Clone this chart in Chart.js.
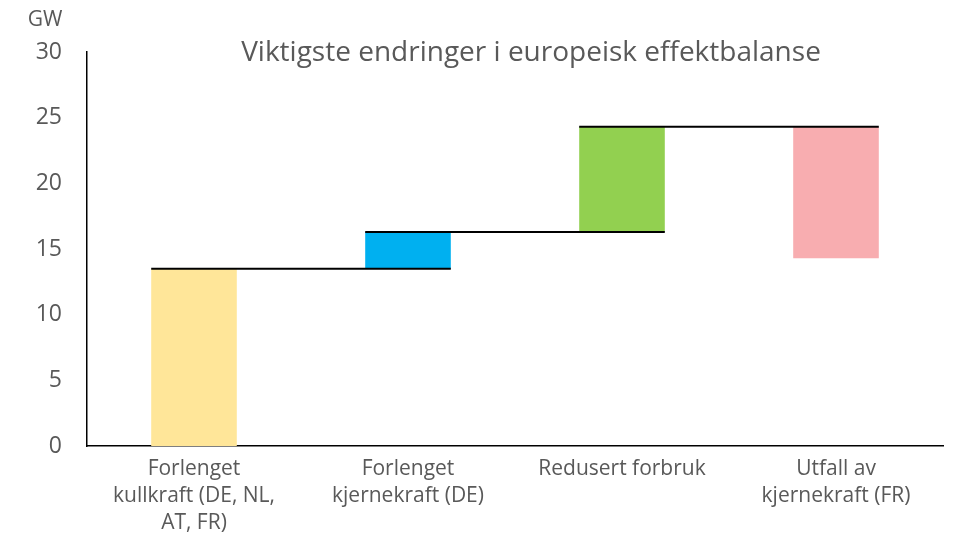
<!DOCTYPE html>
<html>
<head>
<meta charset="utf-8">
<script src="https://cdn.jsdelivr.net/npm/chart.js@4.4.0/dist/chart.umd.min.js"></script>
<style>
  html, body { margin: 0; padding: 0; background: #fff; }
  #wrap { width: 953px; height: 536px; }
</style>
</head>
<body>
<div id="wrap"><canvas id="mainChart"></canvas></div>
<script>
const categories = [
    ['Forlenget', 'kullkraft (DE, NL,', 'AT, FR)'],
    ['Forlenget', 'kjernekraft (DE)'],
    ['Redusert forbruk'],
    ['Utfall av', 'kjernekraft (FR)']
];
// floating bars: [start, end] in GW
const barStart = [0, 13.5, 16.3, 24.3];
const barEnd = [13.5, 16.3, 24.3, 14.3];
const barColors = ['#FFE699', '#00B0F0', '#92D050', '#F8ADB0'];
const yTicks = [0, 5, 10, 15, 20, 25, 30];
const titleText = 'Viktigste endringer i europeisk effektbalanse';
const unitText = 'GW';

const textColor = '#595959';
const fontFamily = '"Open Sans", "Noto Sans", sans-serif';

// connector lines: level after bar i, from left of bar i to right of bar i+1
const connectors = [];
for (let i = 0; i < barEnd.length - 1; i++) {
    connectors.push({
        type: 'line',
        xAxisID: 'x2',
        data: [{ x: i - 0.2, y: barEnd[i] }, { x: i + 1 + 0.2, y: barEnd[i] }],
        borderColor: '#000',
        borderWidth: 2,
        pointRadius: 0,
        fill: false,
        order: 0
    });
}

const extraText = {
    id: 'extraText',
    afterDraw(chart) {
        const ctx = chart.ctx;
        const area = chart.chartArea;
        ctx.save();
        ctx.fillStyle = textColor;
        ctx.font = '28px ' + fontFamily;
        ctx.textAlign = 'center';
        ctx.textBaseline = 'middle';
        ctx.fillText(titleText, area.left + 444, area.top + 1);
        ctx.font = '21px ' + fontFamily;
        ctx.fillText(unitText, 45, 20);
        ctx.restore();
    }
};

const ctx = document.getElementById('mainChart').getContext('2d');
new Chart(ctx, {
    type: 'bar',
    data: {
        labels: categories,
        datasets: [{
            type: 'bar',
            data: barStart.map((s, i) => [s, barEnd[i]]),
            backgroundColor: barColors,
            borderWidth: 0,
            grouped: false,
            categoryPercentage: 1,
            barPercentage: 0.4,
            order: 1
        }, ...connectors]
    },
    options: {
        responsive: true,
        maintainAspectRatio: false,
        animation: false,
        layout: { padding: { top: 52, right: 10, left: 0, bottom: 0 } },
        plugins: {
            legend: { display: false },
            title: { display: false },
            tooltip: { enabled: false }
        },
        scales: {
            x: {
                type: 'category',
                grid: { display: false, drawTicks: false },
                border: { color: '#000', width: 1.5 },
                ticks: {
                    color: textColor,
                    font: { family: fontFamily, size: 21, lineHeight: 1.3 },
                    padding: 9,
                    maxRotation: 0,
                    autoSkip: false
                },
                afterFit(scale) { scale.height = 90; }
            },
            x2: {
                type: 'linear',
                display: false,
                offset: false,
                min: -0.5,
                max: 3.5
            },
            y: {
                min: 0,
                max: 30,
                afterBuildTicks(scale) { scale.ticks = yTicks.map(v => ({ value: v })); },
                grid: { display: false, drawTicks: false },
                border: { color: '#000', width: 1.5 },
                ticks: {
                    color: textColor,
                    font: { family: fontFamily, size: 23 },
                    padding: 25
                },
                afterFit(scale) { scale.width = 87; }
            }
        }
    },
    plugins: [extraText]
});
</script>
</body>
</html>
